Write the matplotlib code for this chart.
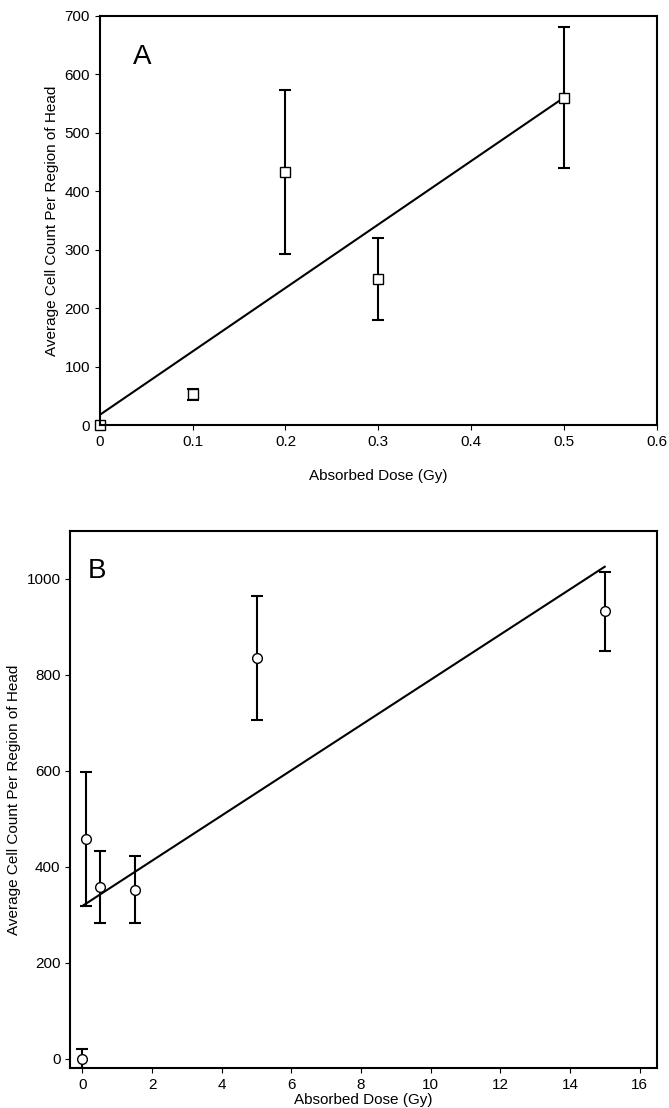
import matplotlib.pyplot as plt
import numpy as np

doseA = [0, 0.1, 0.2, 0.3, 0.5]
countA = [0, 53, 432, 250, 560]
errA = [0, 10, 140, 70, 120]
fitA = [18, 560]

doseB = [0, 0.1, 0.5, 1.5, 5, 15]
countB = [0, 458, 358, 352, 835, 932]
errB = [20, 140, 75, 70, 130, 82]
fitB = [318, 1025]

plt.rcParams['font.family'] = ['Liberation Sans', 'DejaVu Sans']
fig = plt.figure(figsize=(6.69, 11.08), dpi=100)

axA = fig.add_axes([0.149, 0.616, 0.833, 0.370])
eb = axA.errorbar(doseA, countA, yerr=errA, fmt='s', mfc='white', mec='black', ms=7,
                  ecolor='black', capsize=4, elinewidth=1.5, capthick=1.5, color='black')
for a in eb.lines[0:1]:
    a.set_clip_on(False)
axA.plot([0, 0.5], fitA, color='black', lw=1.5)
axA.set_xlim(0, 0.6)
axA.set_ylim(0, 700)
axA.set_xticks(np.arange(0, 0.61, 0.1))
axA.set_xticklabels(['0', '0.1', '0.2', '0.3', '0.4', '0.5', '0.6'])
axA.set_xlabel('Absorbed Dose (Gy)', fontsize=11, labelpad=14)
axA.set_ylabel('Average Cell Count Per Region of Head', fontsize=11)
axA.text(0.06, 0.93, 'A', transform=axA.transAxes, fontsize=20, va='top')

axB = fig.add_axes([0.105, 0.036, 0.877, 0.485])
eb = axB.errorbar(doseB, countB, yerr=errB, fmt='o', mfc='white', mec='black', ms=7,
                  ecolor='black', capsize=4, elinewidth=1.5, capthick=1.5, color='black')
eb.lines[0].set_clip_on(False)
axB.plot([0, 15], fitB, color='black', lw=1.5)
axB.set_xlim(-0.35, 16.5)
axB.set_ylim(-20, 1100)
axB.set_xticks(range(0, 17, 2))
axB.set_yticks(range(0, 1001, 200))
axB.set_xlabel('Absorbed Dose (Gy)', fontsize=11, labelpad=1)
axB.set_ylabel('Average Cell Count Per Region of Head', fontsize=11)
axB.text(0.03, 0.95, 'B', transform=axB.transAxes, fontsize=20, va='top')

for ax in (axA, axB):
    ax.tick_params(labelsize=11, direction='out')
    for s in ax.spines.values():
        s.set_linewidth(1.5)

fig.savefig('out.png')
